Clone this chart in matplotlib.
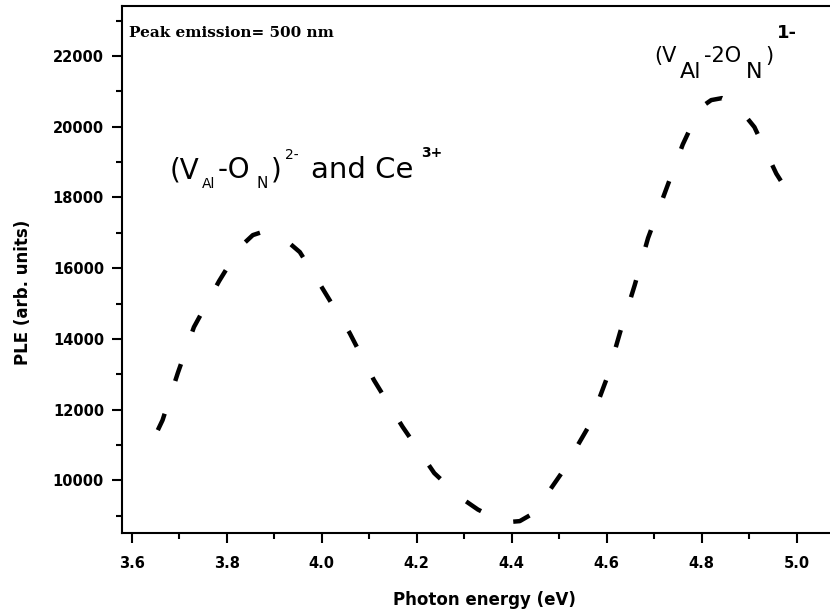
import matplotlib
matplotlib.use('Agg')
import matplotlib.pyplot as plt
from matplotlib.ticker import MultipleLocator
import numpy as np

# photon energy (eV) vs PLE intensity
energy = [3.655, 3.665, 3.697, 3.731, 3.784, 3.828, 3.855, 3.874, 3.902, 3.927,
          3.954, 4.000, 4.059, 4.110, 4.170, 4.237, 4.291, 4.329, 4.365, 4.392,
          4.417, 4.439, 4.470, 4.505, 4.563, 4.600, 4.628, 4.659, 4.687, 4.723,
          4.760, 4.796, 4.820, 4.843, 4.870, 4.911, 4.957, 4.971]
ple = [11419, 11702, 13032, 14333, 15635, 16597, 16936, 17021, 16964, 16766,
       16455, 15465, 14164, 12834, 11519, 10203, 9524, 9171, 8930, 8817,
       8845, 9015, 9524, 10203, 11547, 12876, 14178, 15522, 16851, 18153,
       19496, 20529, 20755, 20812, 20670, 19991, 18676, 18379]

xticks = [3.6, 3.8, 4.0, 4.2, 4.4, 4.6, 4.8, 5.0]
yticks = [10000, 12000, 14000, 16000, 18000, 20000, 22000]

W, H = 830, 616
fig = plt.figure(figsize=(W / 100, H / 100), dpi=100)
ax = fig.add_axes([122 / W, 1 - 533 / H, 1 - 122 / W, (533 - 6) / H])

ax.plot(energy, ple, color='black', lw=3.2, linestyle=(0, (4.0, 7.75)),
        dash_capstyle='butt', solid_joinstyle='round')

ax.set_xlim(3.5796, 5.0701)
ax.set_ylim(8509, 23417)
ax.set_xticks(xticks)
ax.set_yticks(yticks)
ax.xaxis.set_minor_locator(MultipleLocator(0.1))
ax.yaxis.set_minor_locator(MultipleLocator(1000))
ax.tick_params(which='major', direction='out', length=7, width=1.5,
               labelsize=10.5)
ax.tick_params(axis='x', which='major', pad=9.5)
ax.tick_params(axis='y', which='major', pad=6)
ax.tick_params(which='minor', direction='out', length=4, width=1.5)
for lab in ax.get_xticklabels() + ax.get_yticklabels():
    lab.set_fontweight('bold')
ax.spines['right'].set_visible(False)
for s in ['left', 'bottom', 'top']:
    ax.spines[s].set_linewidth(1.5)

fig.text(23 / W, 1 - 292 / H, 'PLE (arb. units)', rotation=90, ha='center',
         va='center', fontsize=12, fontweight='bold')
fig.text(484 / W, 1 - 600 / H, 'Photon energy (eV)', ha='center',
         va='center', fontsize=12, fontweight='bold')

fig.text(129 / W, 1 - 37 / H, 'Peak emission= 500 nm', family='DejaVu Serif',
         fontweight='bold', fontsize=11, ha='left', va='baseline')


def put(x, y, s, size, wt='normal'):
    fig.text(x / W, 1 - y / H, s, fontsize=size, ha='left', va='baseline',
             fontweight=wt)


# (V_Al-O_N)^2- and Ce^3+
put(170, 178, '(V', 20)
put(202, 188, 'Al', 10)
put(218, 178, '-O', 20)
put(256, 188, 'N', 11)
put(271, 178, ')', 20)
put(285, 159, '2-', 10)
put(311, 178, 'and Ce', 21)
put(421, 157, '3+', 10, 'bold')

# (V_Al-2O_N)^1-
put(654, 62, '(V', 15)
put(680, 78, 'Al', 16)
put(704, 62, '-2O', 15)
put(746, 78, 'N', 16)
put(765, 62, ')', 15)
put(777, 38, '1-', 13, 'bold')

fig.savefig('out.png', dpi=100)
